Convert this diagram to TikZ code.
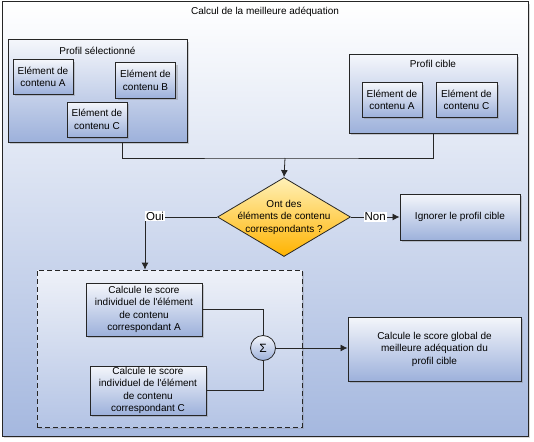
\documentclass[tikz,border=0pt]{standalone}
\usepackage{fontspec}
\setmainfont{Liberation Sans}
\usepackage{tikz}
\usetikzlibrary{
  shapes.geometric,
  arrows.meta,
  shadows
}
\definecolor{frameBottom}{HTML}{A5B8DF}
\definecolor{boxTop}{HTML}{F4F6FB}
\definecolor{boxBottom}{HTML}{9DB1DB}
\definecolor{dashTop}{HTML}{EEF1F8}
\definecolor{dashBottom}{HTML}{B4C4E5}
\definecolor{decisionTop}{HTML}{FFF1B8}
\definecolor{decisionBottom}{HTML}{FFB300}
\colorlet{edge}{black!85}

\begin{document}
\begin{tikzpicture}[
  x=1pt,
  y=-1pt,
  font=\fontsize{10}{12.5}\selectfont,
  every node/.style={
    align=center,
    inner sep=1pt,
  },
  frame box/.style={
    draw=edge,
    line width=1pt,
    top color=white,
    bottom color=frameBottom,
    drop shadow={shadow xshift=2pt,shadow yshift=-2pt,opacity=.3},
  },
  group box/.style={
    draw=edge,
    line width=1pt,
    top color=boxTop,
    bottom color=boxBottom,
    drop shadow={shadow xshift=2pt,shadow yshift=-2pt,opacity=.35},
  },
  item box/.style={
    group box,
  },
  dash box/.style={
    draw=edge,
    line width=0.8pt,
    dash pattern=on 5pt off 3pt,
    top color=dashTop,
    bottom color=dashBottom,
    drop shadow={shadow xshift=2pt,shadow yshift=-2pt,opacity=.25},
  },
  decision/.style={
    diamond,
    draw=edge,
    line width=0.8pt,
    top color=decisionTop,
    bottom color=decisionBottom,
    inner sep=0pt,
  },
  sum/.style={
    circle,
    draw=edge,
    line width=0.8pt,
    top color=boxTop,
    bottom color=boxBottom,
    minimum size=25pt,
    inner sep=0pt,
    font=\fontsize{12}{14}\selectfont,
  },
  tag/.style={
    fill=white,
    inner sep=1pt,
    font=\fontsize{11.5}{13}\selectfont,
  },
  link/.style={
    draw=edge,
    line width=0.8pt,
  },
  arrow/.style={
    link,
    -{Latex[length=7pt,width=7pt]},
  },
]
\useasboundingbox (0,0) rectangle (534,441);
\node[frame box,minimum width=526pt,minimum height=434pt] (frame) at (265,219) {};
\node (title) at (265,12) {Calcul de la meilleure adéquation};

\node[group box,minimum width=179pt,minimum height=102pt] (sel) at (97.5,91) {};
\node (selTitle) at (97.5,51) {Profil sélectionné};
\node[item box,minimum width=60pt,minimum height=34pt] (selA) at (43,77) {Elément de\\contenu A};
\node[item box,minimum width=60pt,minimum height=35pt] (selB) at (145.5,80.5) {Elément de\\contenu B};
\node[item box,minimum width=60pt,minimum height=35pt] (selC) at (97,119.5) {Elément de\\contenu C};

\node[group box,minimum width=168pt,minimum height=78pt] (cib) at (433,94) {};
\node (cibTitle) at (433,64) {Profil cible};
\node[item box,minimum width=60pt,minimum height=34pt] (cibA) at (392,100) {Elément de\\contenu A};
\node[item box,minimum width=61pt,minimum height=34pt] (cibC) at (466.5,100) {Elément de\\contenu C};

\coordinate (join) at (285,158);
\draw[link] ([xshift=24.5pt]sel.south) |- (join) -| (cib.south);

\node[decision,minimum width=133pt,minimum height=79pt,
  label={center:{Ont des\\éléments de contenu\\correspondants ?}}] (match) at (284,217) {};
\draw[arrow] (join) -- (match.north);

\node[item box,minimum width=120pt,minimum height=46pt] (ignore) at (460,217) {Ignorer le profil cible};
\draw[arrow] (match.east) -- node[tag,pos=.5] (non) {Non} (ignore.west);

\node[dash box,minimum width=265pt,minimum height=157pt] (calc) at (169.5,348.5) {};
\coordinate (oui corner) at (145,217);
\draw[arrow] (match.west) -- (oui corner) -- (oui corner |- calc.north);
\node[tag] (oui) at (155,216) {Oui};

\node[item box,minimum width=116pt,minimum height=53pt] (scoreA) at (144,309.5) {Calcule le score\\individuel de l\textquotesingle élément\\de contenu\\correspondant A};
\node[item box,minimum width=116pt,minimum height=49pt] (scoreC) at (148,390.5) {Calcule le score\\individuel de l\textquotesingle élément\\de contenu\\correspondant C};
\node[sum] (sigma) at (263,348) {Σ};
\draw[link] (scoreA.east) -| (sigma.north);
\draw[link] (scoreC.east) -| (sigma.south);

\node[item box,minimum width=173pt,minimum height=64pt] (global) at (434.5,349) {Calcule le score global de\\meilleure adéquation du\\profil cible};
\draw[arrow] (sigma.east) -- (sigma.east -| global.west);
\end{tikzpicture}
\end{document}
